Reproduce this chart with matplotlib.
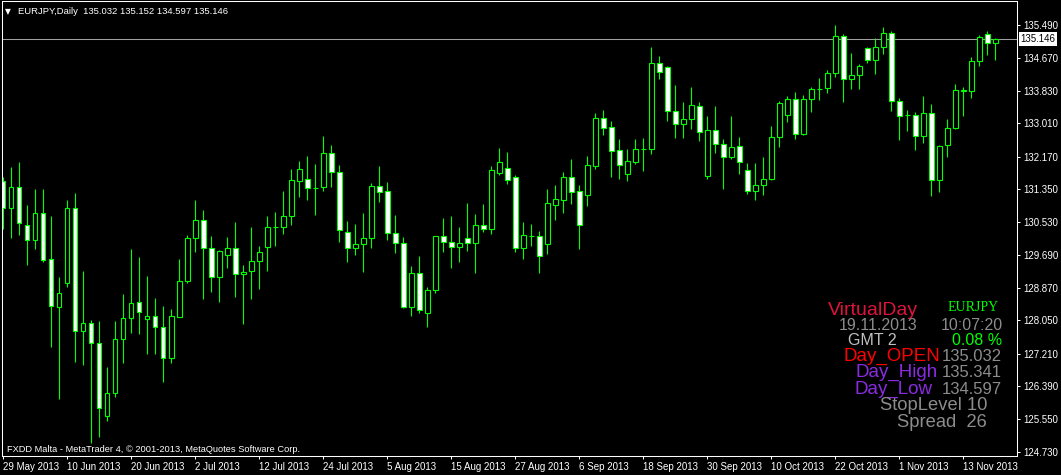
import matplotlib
matplotlib.use("Agg")
import matplotlib.pyplot as plt
import numpy as np

plt.rcParams['font.family'] = ['Liberation Sans', 'DejaVu Sans']

W, H = 1061, 475

# daily bars, EURJPY, 29 May 2013 .. 19 Nov 2013
opens = [131.559, 130.871, 131.400, 130.442, 130.064, 130.745, 129.586, 128.376, 128.996, 130.871,
         127.771, 127.973, 127.469, 125.629, 126.209, 127.570, 128.099, 128.502, 128.074, 128.149,
         127.872, 127.091, 128.139, 129.031, 130.115, 130.568, 129.863, 129.132, 129.686, 129.863,
         129.208, 129.283, 129.535, 129.903, 130.392, 130.392, 130.669, 131.551, 131.602, 131.382,
         131.400, 132.257, 131.778, 130.266, 129.863, 129.964, 130.115, 131.425, 131.299, 130.241,
         129.989, 128.376, 129.233, 128.225, 128.804, 130.165, 130.014, 129.888, 130.115, 130.009,
         130.442, 130.357, 131.768, 131.886, 131.660, 129.878, 130.180, 130.173, 129.979, 130.962,
         131.088, 131.660, 131.307, 131.214, 131.944, 133.146, 132.920, 132.340, 131.743, 132.045,
         132.365, 132.373, 134.525, 134.424, 133.315, 133.008, 133.109, 133.441, 131.697, 132.836,
         132.484, 132.156, 132.433, 131.828, 131.299, 131.450, 131.602, 132.660, 133.214, 133.618,
         132.736, 133.618, 133.870, 133.895, 134.273, 135.205, 134.122, 134.222, 134.903, 134.600,
         134.928, 135.281, 133.567, 133.214, 133.214, 132.685, 133.265, 131.576, 132.458, 132.887,
         133.819, 133.819, 134.575, 135.256, 135.032]
highs = [131.660, 131.912, 132.038, 130.954, 131.357, 131.357, 130.677, 129.140, 131.080, 131.256,
         129.291, 128.056, 128.031, 126.879, 128.038, 128.711, 129.845, 129.644, 129.165, 128.610,
         128.409, 128.326, 129.593, 130.198, 131.080, 130.828, 130.173, 129.820, 130.148, 130.526,
         129.442, 130.400, 129.921, 130.677, 130.778, 131.307, 131.861, 132.063, 132.189, 131.987,
         132.693, 132.466, 131.962, 130.551, 130.475, 130.752, 131.501, 131.937, 131.526, 130.702,
         130.148, 129.417, 129.669, 128.880, 130.180, 130.626, 130.677, 130.400, 131.004, 130.727,
         130.979, 131.937, 132.390, 132.290, 131.710, 130.526, 130.475, 130.299, 131.357, 131.458,
         131.786, 132.113, 131.458, 132.189, 133.272, 133.348, 133.071, 132.617, 132.365, 132.617,
         132.642, 134.936, 134.709, 134.450, 133.978, 133.550, 133.928, 133.550, 133.197, 133.449,
         132.617, 133.197, 132.668, 132.005, 132.005, 132.164, 132.937, 133.567, 133.693, 133.802,
         133.718, 133.920, 134.147, 134.348, 135.490, 135.256, 134.777, 134.500, 134.928, 135.155,
         135.432, 135.331, 133.643, 133.340, 133.290, 133.693, 133.492, 132.458, 133.114, 133.996,
         133.920, 134.676, 135.230, 135.331, 135.152]
lows = [130.349, 130.130, 130.198, 129.450, 129.853, 129.525, 127.383, 126.058, 128.895, 127.005,
        126.930, 124.956, 125.100, 125.518, 126.108, 126.980, 127.736, 127.711, 127.207, 127.207,
        126.501, 126.980, 128.124, 128.996, 129.777, 128.593, 128.769, 128.517, 129.359, 128.643,
        127.943, 128.593, 128.845, 129.298, 129.928, 130.231, 130.458, 131.163, 131.088, 130.710,
        131.314, 131.415, 130.029, 129.525, 129.694, 129.273, 129.878, 131.037, 130.080, 129.752,
        128.358, 128.164, 128.225, 127.887, 128.744, 129.777, 129.374, 129.525, 129.802, 129.248,
        130.281, 130.223, 131.718, 131.491, 129.777, 129.601, 129.928, 129.248, 129.727, 130.584,
        130.760, 130.987, 129.853, 130.936, 131.869, 132.726, 131.667, 131.617, 131.566, 131.995,
        131.818, 132.247, 134.129, 133.063, 132.655, 132.650, 132.857, 132.579, 131.597, 132.272,
        131.365, 132.106, 131.728, 131.224, 131.072, 131.198, 131.576, 132.408, 133.038, 132.610,
        132.710, 133.290, 133.592, 133.769, 134.172, 133.557, 133.870, 133.870, 134.525, 134.248,
        134.752, 133.315, 132.584, 132.811, 132.332, 132.509, 131.173, 131.274, 132.156, 132.862,
        133.189, 133.643, 134.449, 134.726, 134.597]
closes = [130.878, 131.400, 130.493, 130.064, 130.745, 129.576, 128.401, 128.736, 130.871, 127.771,
          127.973, 127.469, 125.831, 126.209, 127.570, 128.099, 128.477, 128.250, 128.149, 127.872,
          127.091, 128.149, 129.031, 130.122, 130.568, 129.863, 129.132, 129.787, 129.863, 129.208,
          129.258, 129.535, 129.762, 130.392, 130.392, 130.669, 131.576, 131.854, 131.375, 131.382,
          132.257, 131.778, 130.316, 129.863, 129.964, 130.115, 131.425, 131.274, 130.241, 129.989,
          128.376, 129.233, 128.300, 128.804, 130.173, 130.014, 129.888, 129.989, 130.009, 130.445,
          130.357, 131.836, 132.038, 131.592, 129.878, 130.198, 130.180, 129.676, 131.004, 131.105,
          131.660, 131.289, 130.458, 131.962, 133.146, 132.902, 132.322, 131.970, 132.063, 132.365,
          132.365, 134.525, 134.298, 133.315, 133.008, 133.114, 133.469, 132.786, 132.836, 132.484,
          132.156, 132.408, 132.030, 131.299, 131.450, 131.602, 132.660, 133.517, 133.618, 132.736,
          133.618, 133.870, 133.870, 134.273, 135.205, 134.122, 134.222, 134.449, 134.600, 134.928,
          135.281, 133.567, 133.189, 133.214, 132.685, 133.265, 131.576, 132.433, 132.887, 133.844,
          133.844, 134.575, 135.180, 135.029, 135.146]

date_labels = ['29 May 2013', '10 Jun 2013', '20 Jun 2013', '2 Jul 2013', '12 Jul 2013',
               '24 Jul 2013', '5 Aug 2013', '15 Aug 2013', '27 Aug 2013', '6 Sep 2013',
               '18 Sep 2013', '30 Sep 2013', '10 Oct 2013', '22 Oct 2013', '1 Nov 2013',
               '13 Nov 2013']
price_ticks = [135.490, 134.670, 133.830, 133.010, 132.170, 131.350, 130.530,
               129.690, 128.870, 128.050, 127.210, 126.390, 125.550, 124.730]

lime = '#00ff00'

fig = plt.figure(figsize=(W / 100, H / 100), dpi=100, facecolor='black')
ax = fig.add_axes([2 / W, 19 / H, 1015 / W, 455 / H], facecolor='black')

o = np.array(opens)
c = np.array(closes)
x = np.arange(len(o))
ax.vlines(x, lows, highs, color=lime, lw=0.8, zorder=1)
bull = c >= o
ax.bar(x[bull], (c - o)[bull], bottom=o[bull], width=0.55, color='black',
       edgecolor=lime, linewidth=0.8, zorder=2)
ax.bar(x[~bull], (o - c)[~bull], bottom=c[~bull], width=0.55, color='white',
       edgecolor=lime, linewidth=0.8, zorder=2)

last = closes[-1]
ax.axhline(last, color='#a0a0a0', lw=0.75, zorder=0)

ax.set_xlim(-0.16, 126.7)
ax.set_ylim(124.629, 136.095)

for s in ax.spines.values():
    s.set_color('white')
    s.set_linewidth(0.75)

ax.yaxis.tick_right()
ax.set_yticks(price_ticks)
ax.set_yticklabels(['%.3f' % v for v in price_ticks])
ax.set_xticks(np.arange(0, 8 * len(date_labels), 8))
ax.set_xticklabels(date_labels, ha='left')
ax.tick_params(colors='white', labelsize=7, length=2.5, width=0.75, pad=2)

ax.text(1.0035, last, '%.3f' % last, transform=ax.get_yaxis_transform(),
        ha='left', va='center', fontsize=7, color='black',
        bbox=dict(boxstyle='square,pad=0.2', fc='white', ec='none'))


def put(px, py, s, color, size, ha='right', family=None):
    kw = {}
    if family:
        kw['family'] = family
    fig.text(px / W, 1 - py / H, s, color=color, fontsize=size, ha=ha, va='baseline', **kw)


# header and footer
put(5, 14, '\u25bc', 'white', 5.5, ha='left', family=['DejaVu Sans'])
put(18, 14, 'EURJPY,Daily  135.032 135.152 134.597 135.146', 'white', 6.8, ha='left')
put(7, 452, 'FXDD Malta - MetaTrader 4, \u00a9 2001-2013, MetaQuotes Software Corp.', 'white', 6.7, ha='left')

# info panel
gray = '#8c8c8c'
purple = '#8a2be2'
put(918, 315, 'VirtualDay', '#dc143c', 14)
put(999, 311, 'EURJPY', lime, 10, family=['Liberation Serif'])
put(918, 330, '19.11.2013', gray, 11.5)
put(1003, 330, '10:07:20', gray, 11.5)
put(897, 345, 'GMT 2', '#c0c0c0', 11.5)
put(1002, 345, '0.08 %', lime, 11.5)
put(940, 361, 'Day_OPEN', 'red', 13.5)
put(1002, 361, '135.032', gray, 12)
put(938, 377, 'Day_High', purple, 13.5)
put(1002, 377, '135.341', gray, 12)
put(932, 394, 'Day_Low', purple, 13.5)
put(1002, 394, '134.597', gray, 12)
put(987, 410, 'StopLevel 10', gray, 13.2)
put(987, 427, 'Spread  26', gray, 13.2)

fig.savefig('out.png', dpi=100, facecolor='black')
